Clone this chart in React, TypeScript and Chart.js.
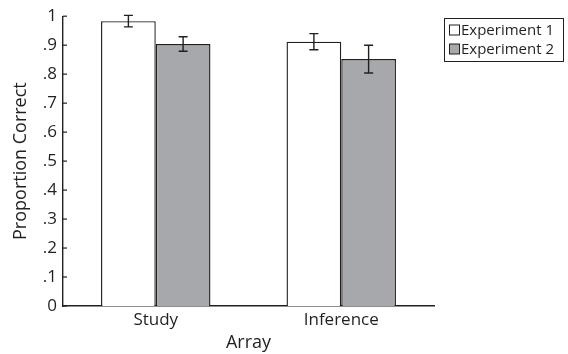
import React, { useEffect, useRef } from "react";
import { Chart, registerables } from "chart.js";

Chart.register(...registerables);

const categories = ["Study", "Inference"];
const seriesNames = ["Experiment 1", "Experiment 2"];
const exp1Values = [0.983, 0.912];
const exp2Values = [0.904, 0.852];
const exp1Errors = [0.02, 0.028];
const exp2Errors = [0.025, 0.048];
const yTicks = [0, 0.1, 0.2, 0.3, 0.4, 0.5, 0.6, 0.7, 0.8, 0.9, 1];

const INK = "#231f20";
const GRAY = "#a7a8ab";
const FONT = "'Open Sans', 'DejaVu Sans', sans-serif";

const fmtTick = (v: number) => {
  if (Math.abs(v) < 1e-9) return "0";
  if (Math.abs(v - 1) < 1e-9) return "1";
  return "." + Math.round(v * 10);
};

const errorBarPlugin = {
  id: "errorBars",
  afterDatasetsDraw(chart: any) {
    const ctx = chart.ctx;
    const yScale = chart.scales.y;
    const errs = [exp1Errors, exp2Errors];
    const vals = [exp1Values, exp2Values];
    ctx.save();
    ctx.strokeStyle = INK;
    ctx.lineWidth = 1.4;
    chart.data.datasets.forEach((_: any, di: number) => {
      const meta = chart.getDatasetMeta(di);
      meta.data.forEach((bar: any, i: number) => {
        const x = bar.x;
        const top = yScale.getPixelForValue(vals[di][i] + errs[di][i]);
        const bot = yScale.getPixelForValue(vals[di][i] - errs[di][i]);
        ctx.beginPath();
        ctx.moveTo(x, top);
        ctx.lineTo(x, bot);
        ctx.moveTo(x - 4.5, top);
        ctx.lineTo(x + 4.5, top);
        ctx.moveTo(x - 4.5, bot);
        ctx.lineTo(x + 4.5, bot);
        ctx.stroke();
      });
    });
    const left = chart.chartArea.left;
    ctx.lineWidth = 1.2;
    yTicks.forEach((t) => {
      const y = yScale.getPixelForValue(t);
      ctx.beginPath();
      ctx.moveTo(left, y);
      ctx.lineTo(left + 4, y);
      ctx.stroke();
    });
    ctx.restore();
  },
};

const legendPlugin = {
  id: "boxLegend",
  afterDraw(chart: any) {
    const ctx = chart.ctx;
    ctx.save();
    const x0 = 444.5, y0 = 18.5, w = 119, h = 43;
    ctx.strokeStyle = INK;
    ctx.lineWidth = 1;
    ctx.strokeRect(x0, y0, w, h);
    ctx.font = `15px ${FONT}`;
    ctx.textBaseline = "middle";
    chart.data.datasets.forEach((ds: any, i: number) => {
      const cy = 30 + i * 19;
      ctx.fillStyle = ds.backgroundColor;
      ctx.fillRect(449.5, cy - 5, 10, 10);
      ctx.strokeStyle = INK;
      ctx.strokeRect(449.5, cy - 5, 10, 10);
      ctx.fillStyle = INK;
      ctx.fillText(ds.label, 461, cy + 1);
    });
    ctx.restore();
  },
};

export default function App() {
  const ref = useRef<HTMLCanvasElement>(null);
  useEffect(() => {
    if (!ref.current) return;
    const chart = new Chart(ref.current, {
      type: "bar",
      data: {
        labels: categories,
        datasets: [
          {
            label: seriesNames[0],
            data: exp1Values,
            backgroundColor: "#ffffff",
            borderColor: INK,
            borderWidth: 1.4,
          },
          {
            label: seriesNames[1],
            data: exp2Values,
            backgroundColor: GRAY,
            borderColor: INK,
            borderWidth: 1.4,
          },
        ],
      },
      options: {
        animation: false,
        responsive: false,
        maintainAspectRatio: false,
        layout: { padding: { left: 0, right: 134, top: 15, bottom: 0 } },
        plugins: {
          legend: { display: false },
          tooltip: { enabled: false },
        },
        datasets: { bar: { categoryPercentage: 0.59, barPercentage: 1 } } as any,
        scales: {
          x: {
            grid: { display: false, drawTicks: false },
            border: { display: true, color: INK, width: 1.4 },
            ticks: { color: INK, font: { family: FONT, size: 17 }, padding: 4 },
            title: {
              display: true,
              text: "Array",
              color: INK,
              font: { family: FONT, size: 18 },
              padding: { top: -4, bottom: 0 },
            },
            afterFit: (s: any) => {
              s.height = 48;
            },
          },
          y: {
            min: 0,
            max: 1,
            afterBuildTicks: (s: any) => {
              s.ticks = yTicks.map((v) => ({ value: v }));
            },
            grid: { display: false, drawTicks: false },
            border: { display: true, color: INK, width: 1.4 },
            ticks: {
              color: INK,
              font: { family: FONT, size: 17 },
              padding: 6,
              callback: (v: any) => fmtTick(Number(v)),
            },
            title: {
              display: true,
              text: "Proportion Correct",
              color: INK,
              font: { family: FONT, size: 18 },
              padding: { top: 10, bottom: 4 },
            },
            afterFit: (s: any) => {
              s.width = 63;
            },
          },
        },
      },
      plugins: [errorBarPlugin, legendPlugin],
    });
    return () => chart.destroy();
  }, []);
  return (
    <div style={{ position: "fixed", left: 0, top: 0, width: 568, height: 354, background: "#fff" }}>
      <canvas ref={ref} width={568} height={354} style={{ width: 568, height: 354 }} />
    </div>
  );
}
